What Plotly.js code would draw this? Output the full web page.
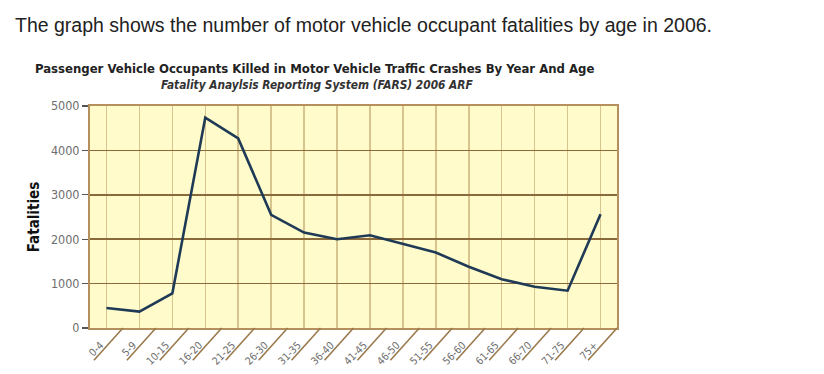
<!DOCTYPE html>
<html>
<head>
<meta charset="utf-8">
<script src="https://cdn.plot.ly/plotly-3.0.1.min.js"></script>
<style>html,body{margin:0;padding:0;background:#fff;}#chart{width:824px;height:374px;}</style>
</head>
<body>
<div id="chart"></div>
<script>
const ageGroups = ["0-4","5-9","10-15","16-20","21-25","26-30","31-35","36-40","41-45","46-50","51-55","56-60","61-65","66-70","71-75","75+"];
const fatalities = [450, 370, 780, 4740, 4270, 2550, 2150, 2000, 2090, 1900, 1700, 1380, 1100, 930, 840, 2560];
const yTicks = [0, 1000, 2000, 3000, 4000, 5000];

const narrow = '"Liberation Sans Narrow", "Arial Narrow", "DejaVu Sans Condensed", sans-serif';

const trace = {
  type: 'scatter',
  mode: 'lines',
  x: ageGroups,
  y: fatalities,
  line: {color: '#1f3a56', width: 2.6},
  hoverinfo: 'x+y'
};

// diagonal separator lines under the category axis, at category boundaries
const shapes = [];
for (let i = 0; i <= ageGroups.length; i++) {
  shapes.push({
    type: 'line', xref: 'x', yref: 'paper',
    x0: i - 0.5, y0: 0, x1: i - 0.5 - 0.88, y1: -0.145,
    line: {color: '#9a7a4c', width: 1.6}
  });
}

const layout = {
  width: 824, height: 374,
  margin: {l: 90, r: 207, t: 106, b: 46},
  paper_bgcolor: '#ffffff',
  plot_bgcolor: '#fffbca',
  showlegend: false,
  xaxis: {
    type: 'category',
    range: [-0.5, ageGroups.length - 0.5],
    showgrid: true, gridcolor: '#d8c48e', gridwidth: 1.5,
    tickangle: -45,
    ticks: '',
    ticklabelstandoff: 5,
    ticklabelshift: -6,
    tickfont: {family: narrow, size: 10.5, color: '#6e6e6e'},
    showline: true, linecolor: '#b58f5c', linewidth: 2, mirror: true,
    fixedrange: true
  },
  yaxis: {
    range: [0, 5000],
    tickvals: yTicks,
    ticktext: yTicks.map(String),
    showgrid: true, gridcolor: '#8a6a3a', gridwidth: 1.6,
    zeroline: false,
    ticks: 'outside', ticklen: 6, tickcolor: '#555555', tickwidth: 1.2,
    tickfont: {family: narrow, size: 12.5, color: '#6e6e6e'},
    showline: true, linecolor: '#b58f5c', linewidth: 2, mirror: true,
    title: {text: '<b>Fatalities</b>', font: {family: narrow, size: 15, color: '#111111'}, standoff: 8},
    fixedrange: true
  },
  shapes: shapes,
  annotations: [
    {
      text: 'The graph shows the number of motor vehicle occupant fatalities by age in 2006.',
      xref: 'paper', yref: 'paper', x: -77/527, y: 1 + (106 - 25) / 222,
      xanchor: 'left', yanchor: 'middle', showarrow: false,
      font: {family: '"Liberation Sans", Arial, sans-serif', size: 19.5, color: '#222222'}
    },
    {
      text: '<b>Passenger Vehicle Occupants Killed in Motor Vehicle Traffic Crashes By Year And Age</b>',
      xref: 'paper', yref: 'paper', x: (314 - 90) / 527, y: 1 + (106 - 68) / 222,
      xanchor: 'center', yanchor: 'middle', showarrow: false,
      font: {family: narrow, size: 13, color: '#222222'}
    },
    {
      text: '<b><i>Fatality Anaylsis Reporting System (FARS) 2006 ARF</i></b>',
      xref: 'paper', yref: 'paper', x: (317 - 90) / 527, y: 1 + (106 - 85) / 222,
      xanchor: 'center', yanchor: 'middle', showarrow: false,
      font: {family: narrow, size: 11.8, color: '#333333'}
    }
  ]
};

Plotly.newPlot('chart', [trace], layout, {displayModeBar: false, staticPlot: true});
</script>
</body>
</html>
